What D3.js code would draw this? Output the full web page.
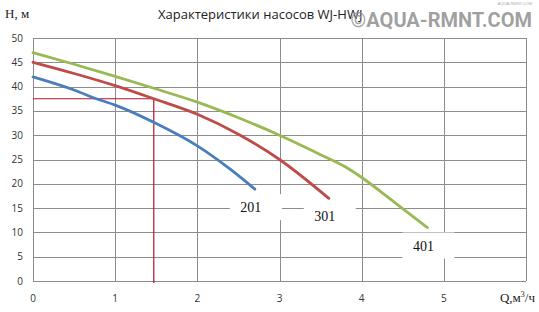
<!DOCTYPE html>
<html>
<head>
<meta charset="utf-8">
<script src="https://cdn.jsdelivr.net/npm/d3@7"></script>
<style>
  body { margin: 0; background: #fff; }
  svg { display: block; }
</style>
</head>
<body>
<svg width="539" height="312"></svg>
<script>
// --- Data ---
const seriesNames = ["201", "301", "401"];
const seriesColors = ["#4a7ebb", "#be4b48", "#98b954"];

const q201 = [0, 0.5, 0.77, 1, 1.5, 2, 2.4, 2.7];
const h201 = [42, 39.3, 37.5, 36.2, 32.4, 27.8, 23.0, 18.9];

const q301 = [0, 0.5, 1, 1.47, 2, 2.5, 3, 3.6];
const h301 = [45, 42.7, 40.2, 37.5, 34.3, 30.2, 25.0, 17.0];

const q401 = [0, 0.5, 1, 1.5, 2, 2.5, 3, 3.5, 3.8, 4, 4.4, 4.8];
const h401 = [47, 44.6, 42.1, 39.5, 36.8, 33.6, 30.0, 26.0, 23.5, 21.3, 16.2, 11.0];

const xTicks = [0, 1, 2, 3, 4, 5];
const yTicks = [0, 5, 10, 15, 20, 25, 30, 35, 40, 45, 50];

// operating point marker
const markQ = 1.47, markH = 37.5;

// --- Setup ---
const svg = d3.select("svg");
const margin = { left: 33, right: 13, top: 38, bottom: 31 };
const width = 539, height = 312;

const x = d3.scaleLinear().domain([0, 6]).range([margin.left, width - margin.right]);
const y = d3.scaleLinear().domain([0, 50]).range([height - margin.bottom, margin.top]);

const grid = svg.append("g").attr("stroke", "#8c8c8c").attr("stroke-width", 1);

// horizontal gridlines
grid.selectAll(".hg").data(yTicks).enter().append("line")
    .attr("x1", x(0)).attr("x2", x(6))
    .attr("y1", d => Math.round(y(d)) + 0.5).attr("y2", d => Math.round(y(d)) + 0.5);

// vertical gridlines (including right border)
grid.selectAll(".vg").data(d3.range(0, 7)).enter().append("line")
    .attr("y1", y(0)).attr("y2", y(50))
    .attr("x1", d => Math.round(x(d)) + 0.5).attr("x2", d => Math.round(x(d)) + 0.5);

// --- Tick labels ---
svg.append("g").selectAll("text").data(yTicks).enter().append("text")
    .attr("x", 23).attr("y", d => y(d) + 3.5)
    .attr("text-anchor", "end")
    .attr("font-family", "Open Sans, sans-serif").attr("font-size", 10).attr("fill", "#333")
    .text(d => d);

svg.append("g").selectAll("text").data(xTicks).enter().append("text")
    .attr("x", d => x(d)).attr("y", 302)
    .attr("text-anchor", "middle")
    .attr("font-family", "Open Sans, sans-serif").attr("font-size", 10).attr("fill", "#333")
    .text(d => d);

// --- Marker lines ---
const mark = svg.append("g").attr("stroke", "#b01030").attr("stroke-width", 1.2).attr("fill", "none");
mark.append("line").attr("x1", x(0)).attr("x2", x(markQ)).attr("y1", y(markH)).attr("y2", y(markH));
mark.append("line").attr("x1", x(markQ)).attr("x2", x(markQ)).attr("y1", y(markH)).attr("y2", y(0) + 2);

// --- Curves ---
const data = [
    q201.map((q, i) => [q, h201[i]]),
    q301.map((q, i) => [q, h301[i]]),
    q401.map((q, i) => [q, h401[i]])
];

const line = d3.line().x(d => x(d[0])).y(d => y(d[1])).curve(d3.curveMonotoneX);

// --- Series labels (white boxes hide grid beneath) ---
const labels = svg.append("g");
data.forEach((pts, i) => {
    const end = pts[pts.length - 1];
    const cx = x(end[0]) - 4, cy = y(end[1]) + 18;
    labels.append("rect")
        .attr("x", cx - 21).attr("y", cy - 13)
        .attr("width", 52).attr("height", 26)
        .attr("fill", "#fff");
    labels.append("text")
        .attr("x", cx).attr("y", cy + 5)
        .attr("text-anchor", "middle")
        .attr("font-family", "Liberation Serif, serif").attr("font-size", 14).attr("fill", "#111")
        .text(seriesNames[i]);
});

svg.append("g").selectAll("path").data(data).enter().append("path")
    .attr("d", line)
    .attr("fill", "none")
    .attr("stroke", (d, i) => seriesColors[i])
    .attr("stroke-width", 2.8)
    .attr("stroke-linecap", "round");

// --- Titles ---
svg.append("text")
    .attr("x", 5).attr("y", 18)
    .attr("font-family", "Liberation Serif, serif").attr("font-size", 13).attr("fill", "#222")
    .text("H, м");

svg.append("text")
    .attr("x", 158).attr("y", 19)
    .attr("font-family", "Open Sans, sans-serif").attr("font-size", 13).attr("fill", "#222")
    .text("Характеристики насосов WJ-HWJ");

svg.append("text")
    .attr("x", 535).attr("y", 302)
    .attr("text-anchor", "end")
    .attr("font-family", "Liberation Serif, serif").attr("font-size", 13).attr("fill", "#222")
    .html("Q,м<tspan dy='-5' font-size='8'>3</tspan><tspan dy='5'>/ч</tspan>");

// watermark
svg.append("text")
    .attr("x", 532).attr("y", 27)
    .attr("text-anchor", "end")
    .attr("font-family", "Liberation Sans Narrow, Roboto, sans-serif").attr("font-size", 20)
    .attr("font-weight", "bold")
    .attr("fill", "#8f8f8f").attr("fill-opacity", 0.85)
    .text("©AQUA-RMNT.COM");

svg.append("text")
    .attr("x", 532).attr("y", 5)
    .attr("text-anchor", "end")
    .attr("font-family", "sans-serif").attr("font-size", 4)
    .attr("fill", "#aaa")
    .text("AQUA-RMNT.COM");
</script>
</body>
</html>
